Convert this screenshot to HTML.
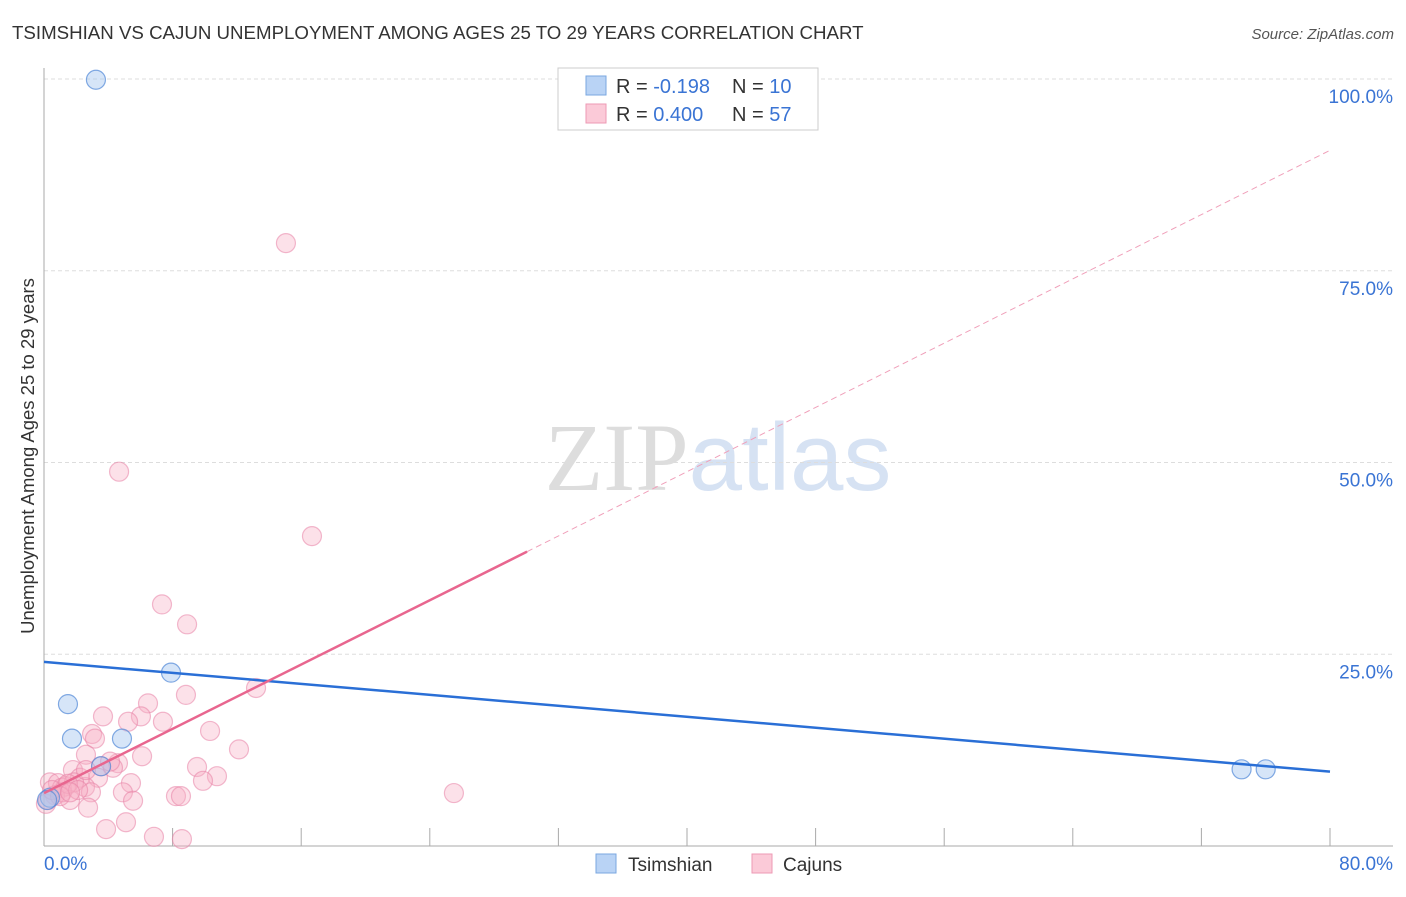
<!DOCTYPE html>
<html><head><meta charset="utf-8"><style>
body{margin:0;background:#fff;font-family:"Liberation Sans",sans-serif;}
svg text{font-family:"Liberation Sans",sans-serif;}
</style></head><body>
<svg id="chart" width="1406" height="892" viewBox="0 0 1406 892" xmlns="http://www.w3.org/2000/svg">
<text x="12" y="39" font-size="18.7" fill="#333">TSIMSHIAN VS CAJUN UNEMPLOYMENT AMONG AGES 25 TO 29 YEARS CORRELATION CHART</text>
<text x="1394" y="39" font-size="15" fill="#555" text-anchor="end" font-style="italic">Source: ZipAtlas.com</text>
<text x="718" y="490" font-size="96" text-anchor="middle"><tspan fill="#dddddd" font-family="Liberation Serif">ZIP</tspan><tspan fill="#d6e2f3">atlas</tspan></text>
<g id="grid"></g>
<g id="axes"></g>
<text transform="translate(34,456) rotate(-90)" font-size="18.5" fill="#333" text-anchor="middle">Unemployment Among Ages 25 to 29 years</text>
<g id="marks"></g>
<g>
<rect x="558" y="68" width="260" height="62" fill="#fff" stroke="#ccc"/>
<rect x="586" y="76" width="20" height="19" fill="#b9d3f5" stroke="#7aa7e0"/>
<rect x="586" y="104" width="20" height="19" fill="#fbcad8" stroke="#ee9ab4"/>
<text x="616" y="93" font-size="20" fill="#333">R = <tspan fill="#3a74d4">-0.198</tspan></text>
<text x="732" y="93" font-size="20" fill="#333">N = <tspan fill="#3a74d4">10</tspan></text>
<text x="616" y="121" font-size="20" fill="#333">R = <tspan fill="#3a74d4">0.400</tspan></text>
<text x="732" y="121" font-size="20" fill="#333">N = <tspan fill="#3a74d4">57</tspan></text>
</g>
<g>
<rect x="596" y="854" width="20" height="19" fill="#b9d3f5" stroke="#7aa7e0"/>
<text x="628" y="871" font-size="19" fill="#333">Tsimshian</text>
<rect x="752" y="854" width="20" height="19" fill="#fbcad8" stroke="#ee9ab4"/>
<text x="783" y="871" font-size="19" fill="#333">Cajuns</text>
</g>
</svg>
<script>
const yTicks=[25,50,75,100];
const yTickLabels=["25.0%","50.0%","75.0%","100.0%"];
const xTicks=[8,16,24,32,40,48,56,64,72,80];
const tsimX=[3.23,1.49,7.90,1.74,4.85,3.55,0.37,0.19,74.5,76.0];
const tsimY=[99.9,18.5,22.6,14.0,14.0,10.4,6.3,6.0,10.0,10.0];
const cajX=[15.05,4.67,16.67,7.34,8.90,8.83,13.19,6.47,3.67,6.03,5.23,7.40,10.33,2.99,3.17,12.13,2.61,6.10,4.60,9.52,1.80,3.55,4.29,10.76,9.89,3.36,5.41,2.24,0.37,0.87,1.37,2.55,1.12,1.87,4.91,2.92,8.21,8.52,5.54,25.5,1.62,0.68,0.25,1.12,2.74,3.86,5.10,6.84,8.58,1.49,2.12,0.12,0.50,1.00,1.62,4.11,2.61];
const cajY=[78.6,48.8,40.4,31.5,28.9,19.7,20.6,18.6,16.9,16.9,16.2,16.2,15.0,14.6,14.0,12.6,11.9,11.7,10.8,10.3,9.9,10.4,10.2,9.1,8.5,8.9,8.2,8.9,8.3,8.2,7.8,7.7,7.6,8.3,7.0,7.0,6.5,6.5,5.9,6.9,6.0,6.6,6.0,7.0,5.0,2.2,3.1,1.2,0.9,8.1,7.3,5.5,7.3,6.5,7.0,11.0,9.9];
const tsimTrend=[24.0,9.7];
const cajTrend=[6.9,90.7];
const cajSolidEnd=30.05;
const NS="http://www.w3.org/2000/svg";
const X=v=>44+v/80*1286;
const Y=v=>846-v*7.67;
function mk(tag,attrs,parent){const e=document.createElementNS(NS,tag);for(const k in attrs)e.setAttribute(k,attrs[k]);document.getElementById(parent).appendChild(e);return e;}
yTicks.forEach((t,i)=>{
 const l=mk('line',{x1:44,x2:1393,y1:Y(t),y2:Y(t),stroke:'#ddd','stroke-dasharray':'4,3'},'grid');
 
 
 const tx=mk('text',{x:1393,y:Y(t)+24,'font-size':19,fill:'#3a74d4','text-anchor':'end'},'grid');
 tx.textContent=yTickLabels[i];
 
 
});
const ax=mk('line',{x1:44,x2:44,y1:68,y2:846,stroke:'#aaa'},'axes');


const bx=mk('line',{x1:44,x2:1393,y1:846,y2:846,stroke:'#aaa'},'axes');


xTicks.forEach(t=>{
 const l=mk('line',{x1:X(t),x2:X(t),y1:828,y2:846,stroke:'#aaa'},'axes');
 
 
});
const x0=mk('text',{x:44,y:870,'font-size':19,fill:'#3a74d4'},'axes');x0.textContent='0.0%';


const x1=mk('text',{x:1393,y:870,'font-size':19,fill:'#3a74d4','text-anchor':'end'},'axes');x1.textContent='80.0%';


cajX.forEach((v,i)=>{
 const c=mk('circle',{cx:X(v),cy:Y(cajY[i]),r:9.5,fill:'rgba(246,175,198,0.38)',stroke:'rgba(232,130,165,0.55)','stroke-width':1.2},'marks');
 
 
});
tsimX.forEach((v,i)=>{
 const c=mk('circle',{cx:X(v),cy:Y(tsimY[i]),r:9.5,fill:'rgba(165,198,240,0.45)',stroke:'rgba(80,135,215,0.7)','stroke-width':1.2},'marks');
 
 
});
const tl=mk('line',{x1:X(0),y1:Y(tsimTrend[0]),x2:X(80),y2:Y(tsimTrend[1]),stroke:'#2a6fd6','stroke-width':2.5},'marks');


const cy=x=>cajTrend[0]+(cajTrend[1]-cajTrend[0])*x/80;
const cs=mk('line',{x1:X(0),y1:Y(cy(0)),x2:X(cajSolidEnd),y2:Y(cy(cajSolidEnd)),stroke:'#e8668f','stroke-width':2.5},'marks');


const cd=mk('line',{x1:X(cajSolidEnd),y1:Y(cy(cajSolidEnd)),x2:X(80),y2:Y(cy(80)),stroke:'#f0a0ba','stroke-width':1,'stroke-dasharray':'6,4'},'marks');


</script>
</body></html>
